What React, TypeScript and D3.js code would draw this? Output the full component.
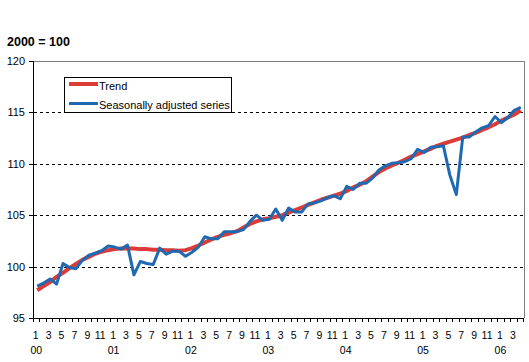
import React from "react";
import * as d3 from "d3";

const years = ["00", "01", "02", "03", "04", "05", "06"];
const monthsPerYear = [12, 12, 12, 12, 12, 12, 4];

const trend = [
  97.7, 98.1, 98.5, 99.0, 99.4, 99.85, 100.25, 100.65, 100.95, 101.25, 101.45, 101.6,
  101.7, 101.75, 101.75, 101.75, 101.7, 101.7, 101.65, 101.65, 101.6, 101.6, 101.55, 101.6,
  101.8, 102.05, 102.35, 102.65, 102.9, 103.1, 103.25, 103.45, 103.8, 104.15, 104.4, 104.6,
  104.7, 104.85, 105.0, 105.25, 105.5, 105.75, 106.0, 106.25, 106.5, 106.7, 106.9, 107.1,
  107.35, 107.7, 107.95, 108.3, 108.75, 109.2, 109.55, 109.85, 110.1, 110.4, 110.7, 110.95,
  111.2, 111.45, 111.75, 111.95, 112.15, 112.35, 112.55, 112.8, 113.0, 113.3, 113.55, 113.85,
  114.2, 114.5, 114.8, 115.2,
];

const seasonal = [
  98.1, 98.4, 98.8, 98.3, 100.3, 99.9, 99.8, 100.6, 101.1, 101.3, 101.55, 102.0,
  101.9, 101.7, 102.1, 99.2, 100.5, 100.3, 100.2, 101.8, 101.2, 101.5, 101.5, 101.0,
  101.4, 101.9, 102.9, 102.7, 102.7, 103.4, 103.4, 103.4, 103.6, 104.4, 105.0, 104.5,
  104.6, 105.6, 104.5, 105.7, 105.3, 105.3, 106.1, 106.2, 106.4, 106.7, 106.9, 106.6,
  107.8, 107.5, 108.1, 108.1, 108.6, 109.4, 109.8, 110.05, 110.1, 110.2, 110.5, 111.4,
  111.1, 111.6, 111.65, 111.75, 108.9, 107.0, 112.6, 112.6, 113.1, 113.5, 113.7, 114.6,
  114.0, 114.5, 115.2, 115.5,
];

const yTicks = [95, 100, 105, 110, 115, 120];
const gridValues = [100, 105, 110, 115];

const categories: { year: string; month: number }[] = [];
years.forEach((y, yi) => {
  for (let m = 1; m <= monthsPerYear[yi]; m++) categories.push({ year: y, month: m });
});

const RED = "#dd3b36";
const BLUE = "#1f69b3";
const FONT = "'Liberation Sans', Arial, sans-serif";

export default function App() {
  const W = 529;
  const H = 362;
  const left = 34;
  const right = 524;
  const top = 61;
  const bottom = 318;

  const x = d3
    .scaleBand<number>()
    .domain(categories.map((_, i) => i))
    .range([left, right])
    .padding(0);
  const bw = x.bandwidth();
  const cx = (i: number) => (x(i) as number) + bw / 2;
  const y = d3.scaleLinear().domain([95, 120]).range([bottom, top]);

  const line = d3
    .line<number>()
    .x((_, i) => cx(i))
    .y((d) => y(d));

  return (
    <svg
      width={W}
      height={H}
      style={{ position: "absolute", left: 0, top: 0, background: "#fff" }}
      fontFamily={FONT}
    >
      <rect x={0} y={0} width={W} height={H} fill="#fff" />
      <text x={7} y={45.7} fontSize={12.5} fontWeight="bold" fill="#000">
        2000 = 100
      </text>

      {/* gridlines */}
      {gridValues.map((v) => (
        <line
          key={v}
          x1={left}
          x2={right}
          y1={Math.round(y(v)) + 0.5}
          y2={Math.round(y(v)) + 0.5}
          stroke="#000"
          strokeWidth={1}
          strokeDasharray="3,3"
        />
      ))}
      {/* plot border top/right */}
      <line x1={left} x2={right} y1={top + 0.5} y2={top + 0.5} stroke="#808080" />
      <line x1={right + 0.5} x2={right + 0.5} y1={top} y2={bottom} stroke="#808080" />

      {/* axes */}
      <line x1={left - 0.5} x2={left - 0.5} y1={top} y2={bottom + 0.5} stroke="#000" />
      <line x1={left - 0.5} x2={right} y1={bottom + 0.5} y2={bottom + 0.5} stroke="#000" />

      {yTicks.map((v) => (
        <g key={v}>
          <line
            x1={left - 5}
            x2={left}
            y1={Math.round(y(v)) + 0.5}
            y2={Math.round(y(v)) + 0.5}
            stroke="#000"
          />
          <text
            x={25}
            y={y(v)}
            dy="0.36em"
            textAnchor="end"
            fontSize={11}
            fill="#000"
          >
            {v}
          </text>
        </g>
      ))}

      {/* x ticks */}
      {categories.map((_, i) => (
        <line
          key={"t" + i}
          x1={Math.round(x(i) as number) - 0.5}
          x2={Math.round(x(i) as number) - 0.5}
          y1={bottom}
          y2={bottom + 4}
          stroke="#000"
        />
      ))}
      <line x1={right - 0.5} x2={right - 0.5} y1={bottom} y2={bottom + 4} stroke="#000" />

      {categories.map((c, i) =>
        c.month % 2 === 1 ? (
          <text
            key={"m" + i}
            x={cx(i) - 1.5}
            y={338.5}
            textAnchor="middle"
            fontSize={10.5}
            fill="#000"
          >
            {c.month}
          </text>
        ) : null
      )}
      {categories.map((c, i) =>
        c.month === 1 ? (
          <text
            key={"y" + i}
            x={cx(i) - 1}
            y={353.5}
            textAnchor="middle"
            fontSize={10.5}
            fill="#000"
          >
            {c.year}
          </text>
        ) : null
      )}

      {/* series */}
      <path d={line(trend) || ""} fill="none" stroke={RED} strokeWidth={4} strokeLinejoin="round" />
      <path d={line(seasonal) || ""} fill="none" stroke={BLUE} strokeWidth={3} strokeLinejoin="round" />

      {/* legend */}
      <rect x={64.5} y={77.5} width={167} height={35} fill="#fff" stroke="#000" strokeWidth={1} />
      <line x1={69} x2={98} y1={84} y2={84} stroke={RED} strokeWidth={4} />
      <text x={99} y={90} fontSize={11} fill="#000">
        Trend
      </text>
      <line x1={69} x2={98} y1={103.5} y2={103.5} stroke={BLUE} strokeWidth={3} />
      <text x={99} y={109} fontSize={11} fill="#000">
        Seasonally adjusted series
      </text>
    </svg>
  );
}
